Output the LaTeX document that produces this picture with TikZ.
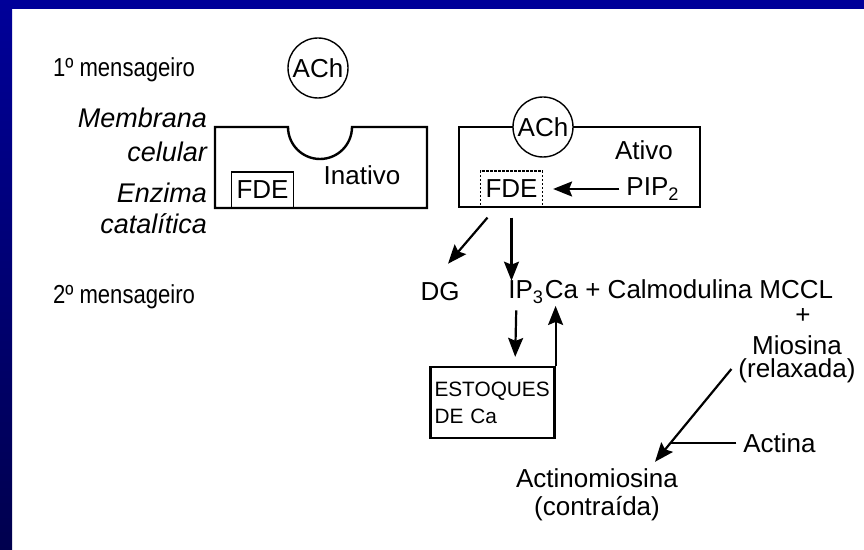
\documentclass[tikz,border=0pt]{standalone}
\usepackage{fontspec}
\setmainfont{Liberation Sans}
\newfontfamily\narrowfont[FakeStretch=0.85]{Liberation Sans}
\usepackage{tikz}
\usetikzlibrary{arrows.meta,positioning}
\definecolor{slideblue}{RGB}{0,0,153}
\definecolor{slidenavy}{RGB}{0,0,78}

\begin{document}
\begin{tikzpicture}[x=0.5pt,y=-0.5pt,
		every node/.style={font=\fontsize{13}{15}\selectfont},
		msglabel/.style={anchor=west,font=\narrowfont\fontsize{13}{15}\selectfont},
		sidelabel/.style={anchor=east,align=right},
		ach/.style={draw,circle,fill=white,inner sep=0pt,minimum size=30pt,line width=0.7pt},
		fde/.style={draw,inner sep=0pt,minimum width=31pt,minimum height=18pt,line width=0.6pt},
		membrane/.style={line width=1.2pt},
		stock/.style={draw,line width=1.1pt,minimum height=35.5pt,text width=58pt,align=left,inner xsep=2pt,font=\fontsize{10.4}{13.5}\selectfont},
		arr/.style={-{Stealth[length=9.5pt,width=7.5pt,inset=1.5pt]},line width=1.1pt}]
		\fill[white] (0,0) rectangle (864,550);
		\fill[slideblue] (0,0) rectangle (864,9);
		\shade[top color=slideblue,bottom color=slidenavy] (0,0) rectangle (12,550);
		\draw[membrane] (215,127) -- (288,127) arc[start angle=180,end angle=0,radius=32] -- (427,127) |- (215,208) -- cycle;
		\draw[membrane] (459,127) rectangle (700,207);
		\node[msglabel] (msg1) at (46,70) {1º mensageiro};
		\node[msglabel] (msg2) at (46,297) {2º mensageiro};
		\node[sidelabel,font=\itshape\fontsize{13.5}{17}\selectfont] (membrana) at (214,135) {Membrana\\celular};
		\node[sidelabel,font=\itshape\fontsize{13.5}{15.5}\selectfont] (enzima) at (214,208) {Enzima\\catalítica};
		\node[ach] (ach1) at (318,68) {ACh};
		\node[ach] (ach2) at (543,127) {ACh};
		\node[fde] (fde1) at (262.5,190) {FDE};
		\node (inativo) at (362,175) {Inativo};
		\node[fde,dash pattern=on 1.2pt off 0.8pt] (fde2) at (511.5,189) {FDE};
		\node (ativo) at (644,150) {Ativo};
		\node (pip2) at (653,189) {PIP\textsubscript{2}};
		\node (dg) at (440,292) {DG};
		\node[anchor=west,inner xsep=0pt] (ip3) at (508,292) {IP\textsubscript{3}};
		\node[anchor=base west,inner xsep=0pt] (chain) at (ip3.base east) {Ca + Calmodulina MCCL};
		\node[inner sep=0pt] (plus) at (803,316) {+};
		\node[align=center,font=\fontsize{13}{11.5}\selectfont] (miosina) at (797,359) {Miosina\\(relaxada)};
		\node[stock] (estoques) at (492.5,402.5) {ESTOQUES\\DE Ca};
		\node[align=center,font=\fontsize{13}{14}\selectfont] (actino) at (597,495) {Actinomiosina\\(contraída)};
		\path[arr]
		(pip2.west) edge[shorten >=5pt] (pip2.west -| fde2.east)
		([xshift=-12pt,yshift=-5pt]fde2.south) edge ([xshift=4pt,yshift=6pt]dg.north)
		(fde2.south) edge[shorten <=5pt,shorten >=-3.5pt] (fde2.south |- ip3.north)
		([xshift=-5pt]ip3.south) edge[shorten >=4.5pt] ([xshift=11.25pt]estoques.north)
		(estoques.north east) edge (estoques.north east |- chain.south);
		\draw[arr] ([yshift=-5pt]miosina.west) -- coordinate[pos=0.8] (meet) ([xshift=-15pt]actino.north east);
		\node[right=33pt of meet] (actina) {Actina};
		\draw[line width=1.1pt] (actina) -- (meet);
\end{tikzpicture}
\end{document}
